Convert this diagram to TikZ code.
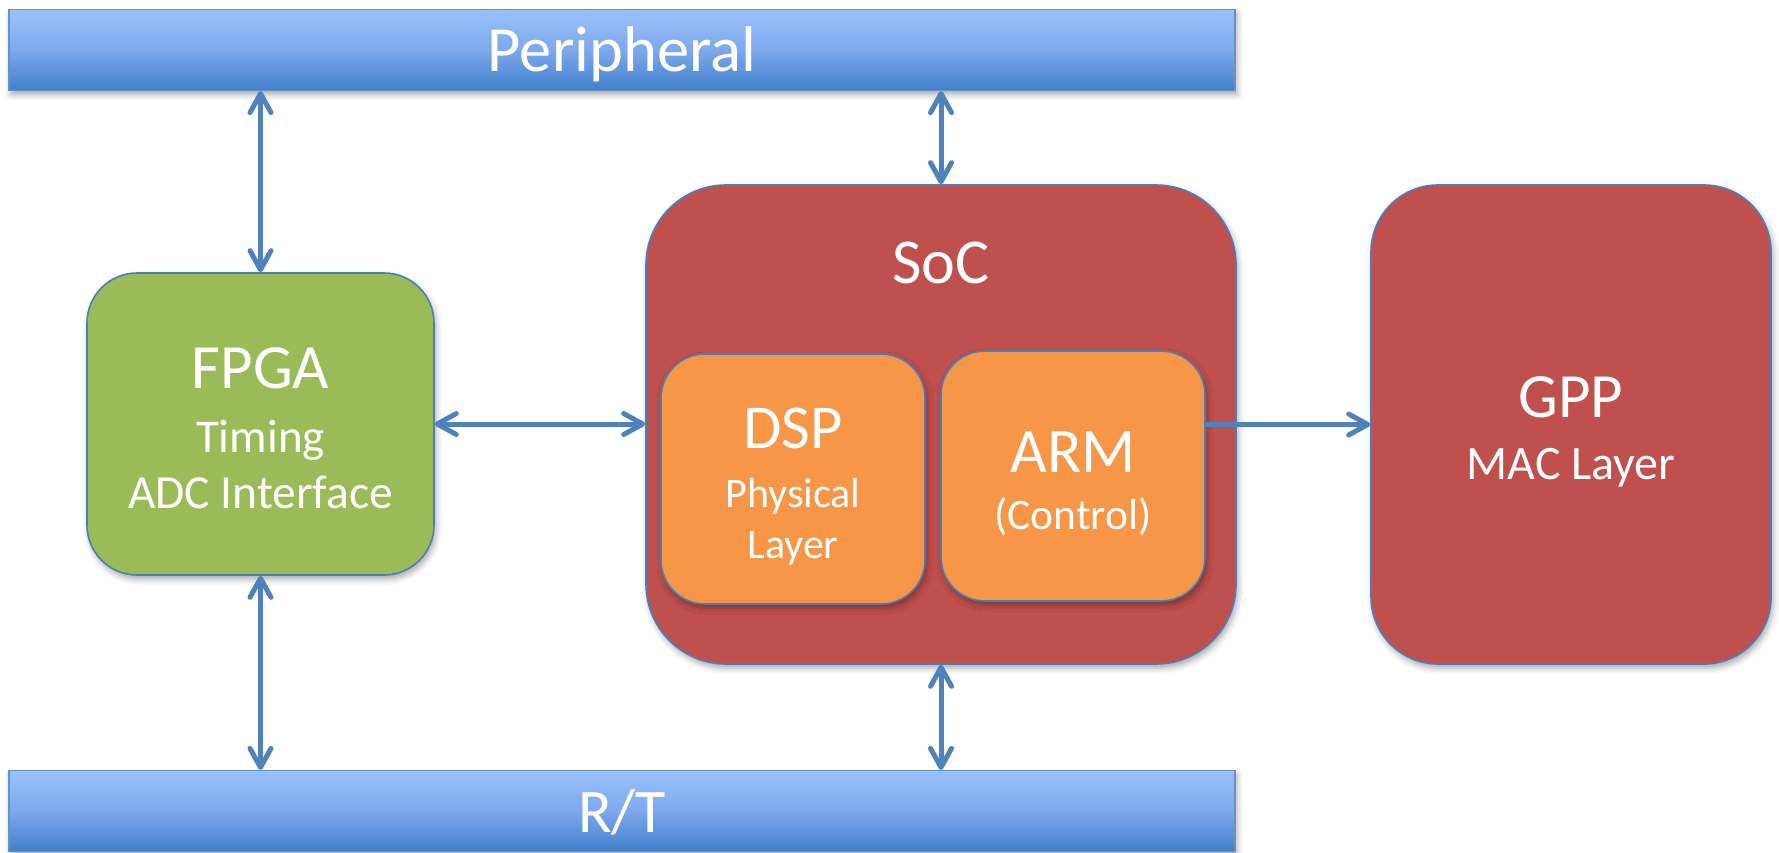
\documentclass[tikz,border=0pt]{standalone}
\usepackage{fontspec}
\setmainfont{Carlito}
\usetikzlibrary{arrows.meta,shadows.blur}

\definecolor{barTop}{HTML}{9BC1FC}
\definecolor{barMid}{HTML}{7DA8EC}
\definecolor{barBot}{HTML}{4180CC}
\definecolor{edgeBlue}{HTML}{4A7EBB}
\definecolor{arrowBlue}{HTML}{4F81BD}
\definecolor{socRed}{HTML}{C0504D}
\definecolor{fpgaGreen}{HTML}{9BBB59}
\definecolor{coreOrange}{HTML}{F79646}

\newcommand{\fs}[1]{\fontsize{#1}{#1}\selectfont}

\tikzset{
  softshadow/.style={blur shadow={shadow xshift=2pt, shadow yshift=-4pt,
      shadow blur radius=6pt, shadow opacity=35}},
  busbar/.style={draw=edgeBlue!85, line width=1.2pt, top color=barTop,
      bottom color=barBot, middle color=barMid, minimum width=1226pt,
      minimum height=81pt, inner sep=0pt, softshadow},
  block/.style={draw=edgeBlue, line width=1.6pt, inner sep=0pt, softshadow},
  txt/.style={text=white, anchor=base, inner sep=0pt},
  link/.style={draw=arrowBlue, line width=5pt},
  biarrow/.style={link, {Straight Barb[length=19pt, width=21pt, line cap=round, line join=round]}-{Straight Barb[length=19pt, width=21pt, line cap=round, line join=round]}},
  onearrow/.style={link, -{Straight Barb[length=19pt, width=21pt, line cap=round, line join=round]}},
}

\begin{document}
\begin{tikzpicture}[x=1pt, y=-1pt]
  \useasboundingbox (0,0) rectangle (1779,852);

  % buses
  \node[busbar] (periph) at (622,50) {};
  \node[busbar] (rt) at (622,811) {};

  % processing blocks
  \node[block, fill=fpgaGreen, minimum width=347pt, minimum height=302pt,
        rounded corners=50pt] (fpga) at (260.5,424) {};
  \node[block, fill=socRed, minimum width=590pt, minimum height=479pt,
        rounded corners=80pt] (soc) at (941,424.5) {};
  \node[block, fill=socRed, minimum width=400pt, minimum height=479pt,
        rounded corners=67pt] (gpp) at (1571,424.5) {};
  \node[block, fill=coreOrange, minimum width=264pt, minimum height=250pt,
        rounded corners=44pt] (dsp) at (793,479) {};
  \node[block, fill=coreOrange, minimum width=264pt, minimum height=250pt,
        rounded corners=44pt] (arm) at (1073,476) {};

  % labels
  \node[txt, font=\fs{64.5}] (periphT) at (622,71) {Peripheral};
  \node[txt, font=\fs{62}] (rtT) at (622,832) {R/T};

  \node[txt, font=\fs{63}] (fpgaT) at (260.5,388) {FPGA};
  \node[txt, font=\fs{47}] (fpgaS1) at (260.5,452) {Timing};
  \node[txt, font=\fs{47.5}] (fpgaS2) at (260.5,508) {ADC Interface};

  \node[txt, font=\fs{64}] (socT) at (941,283) {SoC};

  \node[txt, font=\fs{62.5}] (dspT) at (793,448) {DSP};
  \node[txt, font=\fs{42}] (dspS1) at (793,507) {Physical};
  \node[txt, font=\fs{42}] (dspS2) at (793,558) {Layer};

  \node[txt, font=\fs{63.5}] (armT) at (1073,472) {ARM};
  \node[txt, font=\fs{43.5}] (armS) at (1073,529) {(Control)};

  \node[txt, font=\fs{63}] (gppT) at (1571,417) {GPP};
  \node[txt, font=\fs{48}] (gppS) at (1571,479) {MAC Layer};

  % connections
  \draw[biarrow] (fpga.north) -- (fpga.north |- periph.south);
  \draw[biarrow] (fpga.south) -- (fpga.south |- rt.north);
  \draw[biarrow] (soc.north) -- (soc.north |- periph.south);
  \draw[biarrow] (soc.south) -- (soc.south |- rt.north);
  \draw[biarrow] (fpga.east) -- (fpga.east -| soc.west);
  \draw[onearrow] (arm.east |- gpp.west) -- (gpp.west);
\end{tikzpicture}
\end{document}
